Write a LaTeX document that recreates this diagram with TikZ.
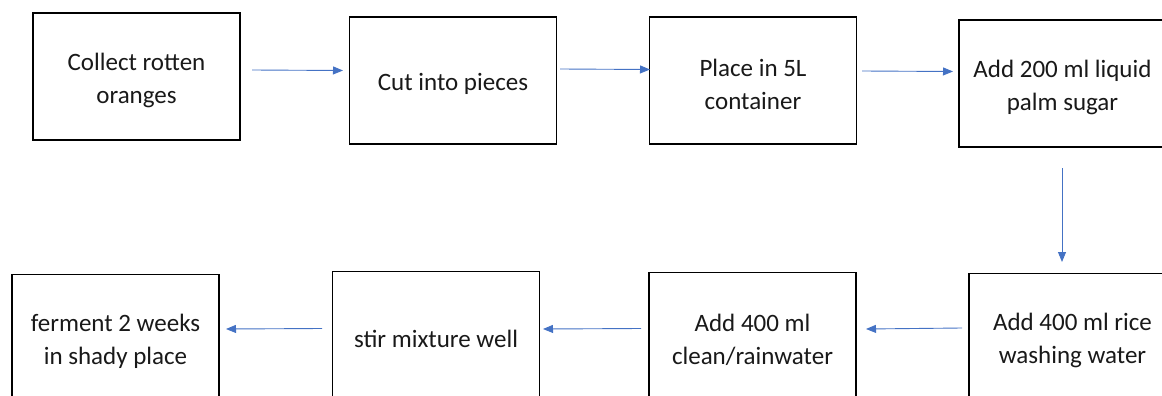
\documentclass[tikz,border=0pt]{standalone}
\usepackage{fontspec}
\setmainfont{Carlito}
\usetikzlibrary{arrows.meta}
\definecolor{arrowblue}{HTML}{4472C4}
\tikzset{
  stepbox/.style={draw=black, line width=1.3pt, fill=white, minimum width=207pt, minimum height=127pt,
    inner sep=0pt},
  steptext/.style={align=center, inner sep=0pt, yshift=-3.5pt, font=\fontsize{25pt}{33pt}\selectfont, text=black!90},
  flow/.style={draw=arrowblue, line width=0.9pt, -{Triangle[length=10pt,width=8pt]}, arrowblue}
}
\begin{document}
\begin{tikzpicture}[x=1pt,y=-1pt]
\useasboundingbox (0,0) rectangle (1162,396);
\clip (0,0) rectangle (1162,396);
\node[stepbox, label={[steptext]center:Collect rotten\\oranges}] (b1) at (136.5,76.5) {};
\node[stepbox, label={[steptext]center:Cut into pieces}] (b2) at (453,80.5) {};
\node[stepbox, label={[steptext]center:Place in 5L\\container}] (b3) at (753,80.5) {};
\node[stepbox, label={[steptext]center:Add 200 ml liquid\\palm sugar}] (b4) at (1062.5,83.5) {};
\node[stepbox, label={[steptext]center:Add 400 ml rice\\washing water}] (b5) at (1072.5,337) {};
\node[stepbox, label={[steptext]center:Add 400 ml\\clean/rainwater}] (b6) at (752.5,336) {};
\node[stepbox, label={[steptext]center:stir mixture well}] (b7) at (436,335) {};
\node[stepbox, label={[steptext]center:ferment 2 weeks\\in shady place}] (b8) at (115.5,338) {};
\coordinate (a1s) at (252,70); \coordinate (a1e) at (343,70.5);
\coordinate (a2s) at (560,69); \coordinate (a2e) at (650,69.5);
\coordinate (a3s) at (862,71); \coordinate (a3e) at (953,71.5);
\coordinate (a4s) at (1062,168); \coordinate (a4e) at (1062,262);
\coordinate (a5s) at (962,328); \coordinate (a5e) at (866,329);
\coordinate (a6s) at (641,328.5); \coordinate (a6e) at (543,329);
\coordinate (a7s) at (322,328.5); \coordinate (a7e) at (226,329);
\draw[flow] (a1s) -- (a1e);
\draw[flow] (a2s) -- (a2e);
\draw[flow] (a3s) -- (a3e);
\draw[flow] (a4s) -- (a4e);
\draw[flow] (a5s) -- (a5e);
\draw[flow] (a6s) -- (a6e);
\draw[flow] (a7s) -- (a7e);
\end{tikzpicture}
\end{document}
